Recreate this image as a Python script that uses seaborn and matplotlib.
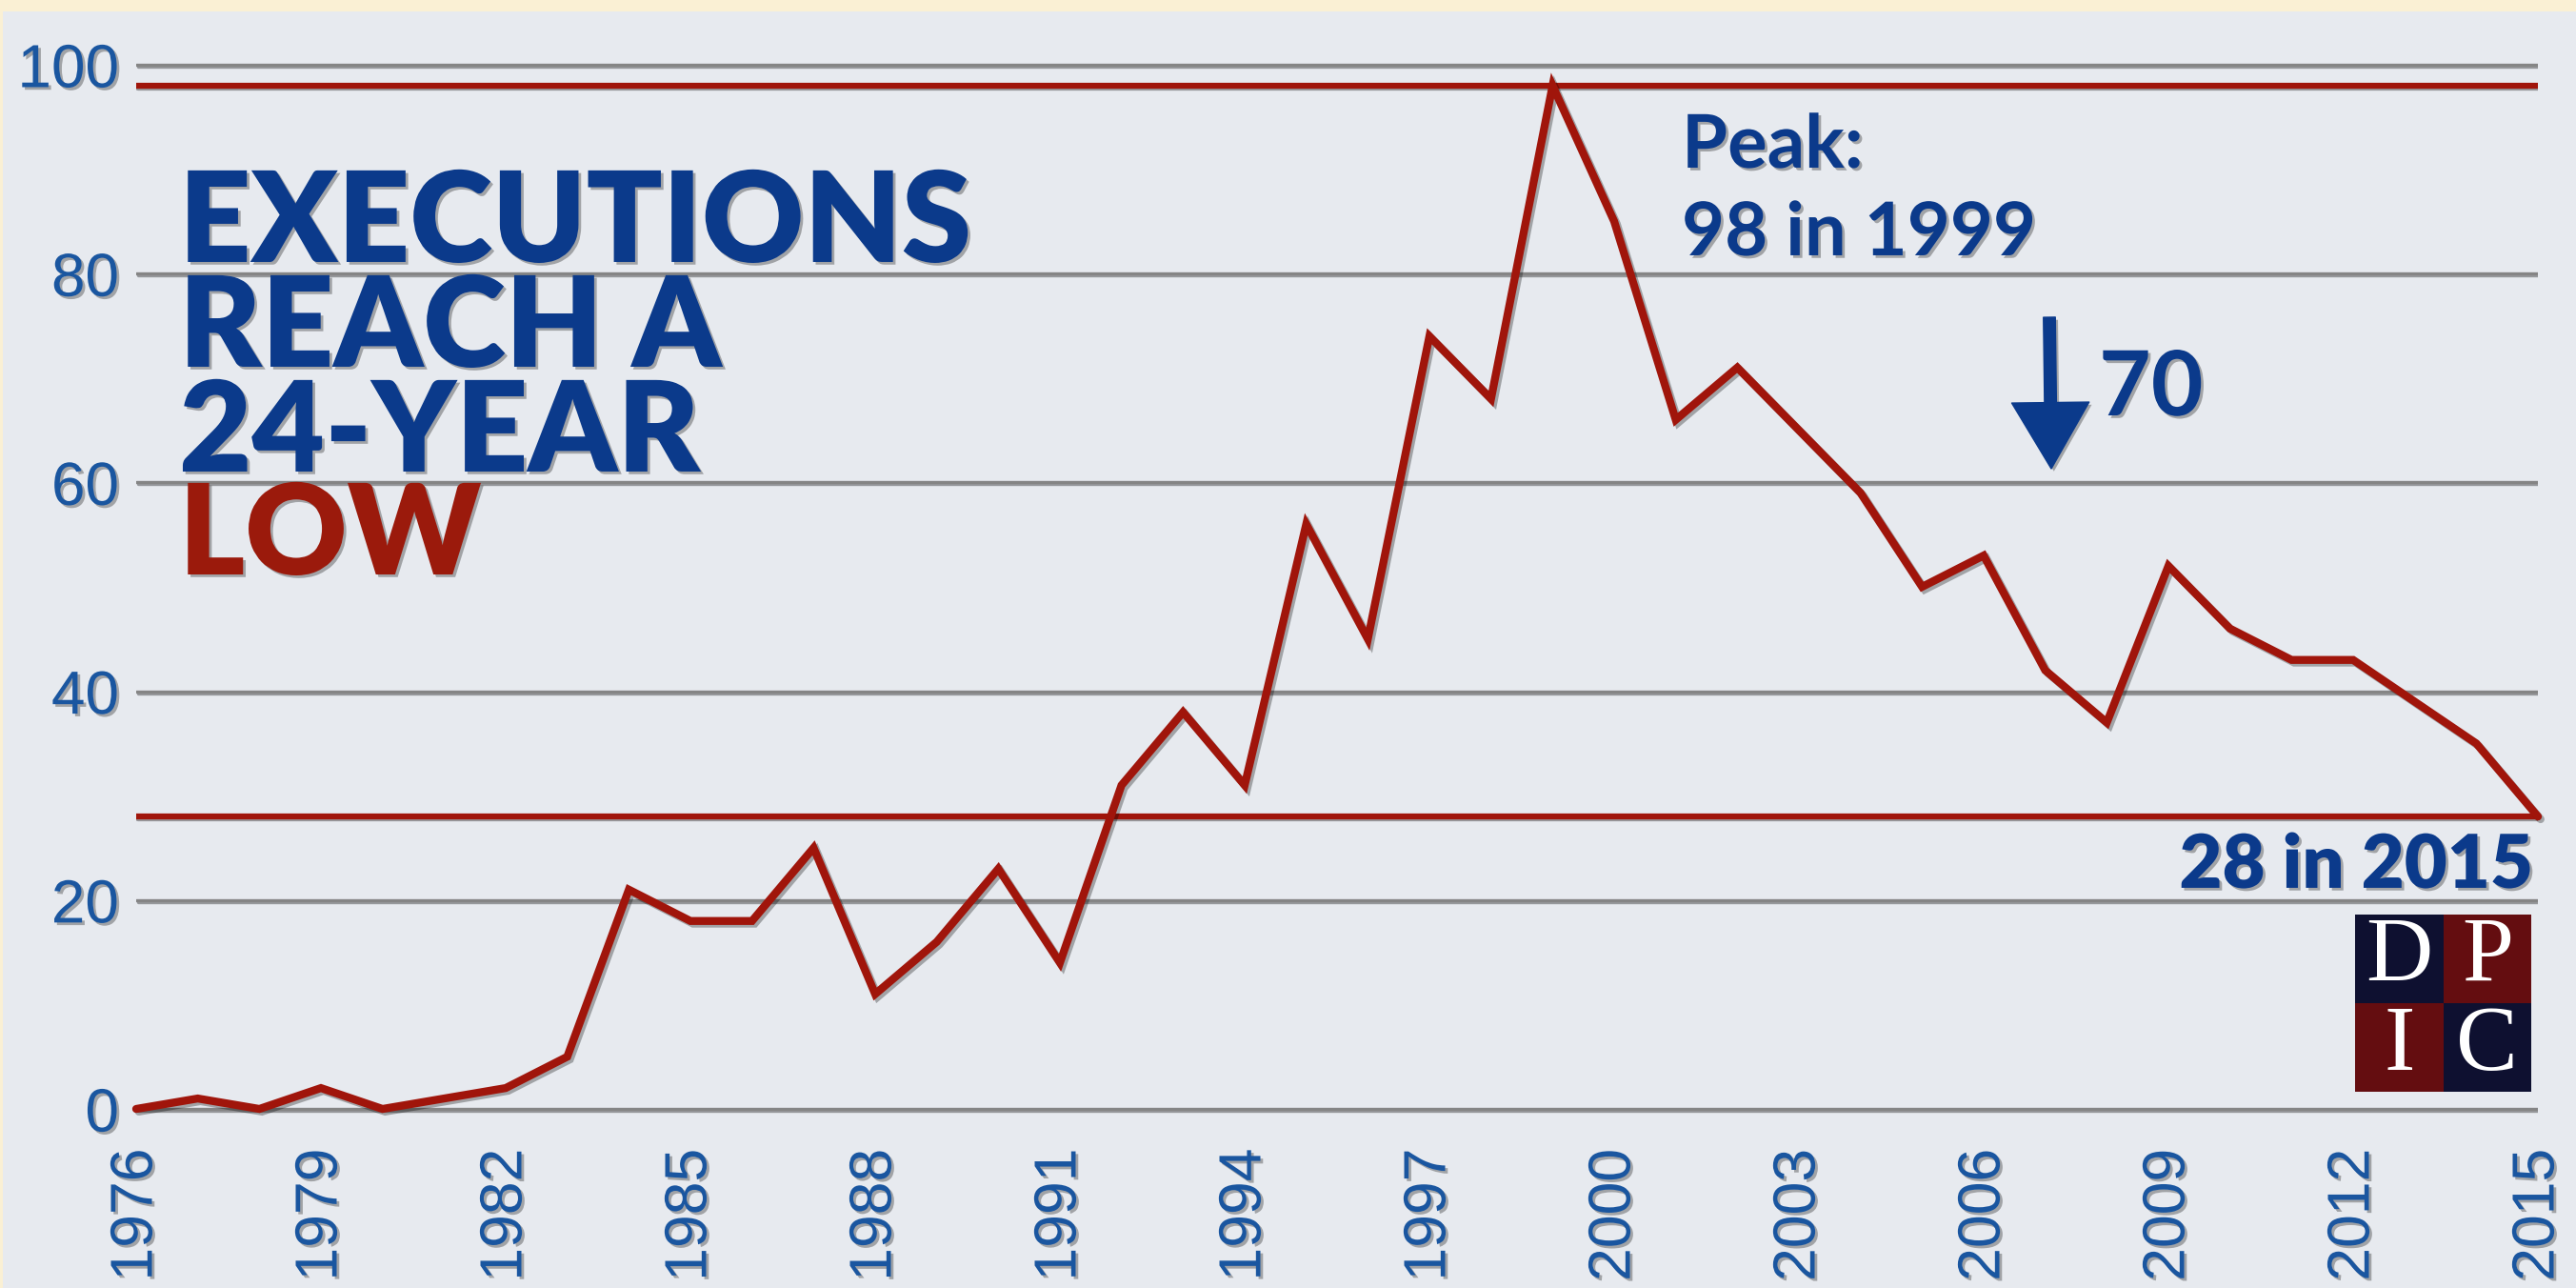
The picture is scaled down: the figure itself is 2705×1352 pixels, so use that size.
import numpy as np
import pandas as pd
import matplotlib
matplotlib.use("Agg")
import matplotlib.pyplot as plt
import matplotlib.patheffects as pe
from matplotlib.colors import ListedColormap
from matplotlib.patches import Rectangle, ArrowStyle, FancyArrowPatch
import seaborn as sns

# Data
years = list(range(1976, 2016))
executions = [0, 1, 0, 2, 0, 1, 2, 5, 21, 18,
              18, 25, 11, 16, 23, 14, 31, 38, 31, 56,
              45, 74, 68, 98, 85, 66, 71, 65, 59, 50,
              53, 42, 37, 52, 46, 43, 43, 39, 35, 28]
y_ticks = [0, 20, 40, 60, 80, 100]
x_ticks = years[::3]
title_lines = ["EXECUTIONS", "REACH A", "24-YEAR"]
title_last = "LOW"
drop_label = "70"
logo_letters = [["D", "P"], ["I", "C"]]

# Colours
CREAM = "#faf0d4"
PANEL = "#e7eaef"
BLUE = "#0b3a8b"
TICK_BLUE = "#1a56a0"
RED = "#a0150b"
GRID = "#858585"
NAVY = "#0e1030"
MAROON = "#640d10"

W, H = 2705, 1352

sns.set_style("white")
plt.rcParams["font.family"] = ["Liberation Sans", "DejaVu Sans"]

shadow = [pe.SimpleLineShadow(offset=(1.5, -1.5), alpha=0.35), pe.Normal()]
text_shadow = [pe.withSimplePatchShadow(offset=(2, -2), shadow_rgbFace="k", alpha=0.3)]

fig = plt.figure(figsize=(W / 100, H / 100), dpi=100, facecolor=CREAM)
fig.add_artist(Rectangle((3 / W, 0), 1, 1 - 12 / H, transform=fig.transFigure,
                         facecolor=PANEL, edgecolor="none", zorder=-10))

ax = fig.add_axes([143 / W, 1 - 1175 / H, (2665 - 143) / W, (1175 - 57) / H])
ax.set_facecolor("none")

df = pd.DataFrame({"year": years, "executions": executions})
sns.lineplot(data=df, x="year", y="executions", ax=ax, color=RED, linewidth=6,
             clip_on=False, zorder=5, solid_joinstyle="miter",
             path_effects=[pe.SimpleLineShadow(offset=(2, -2), alpha=0.3), pe.Normal()])

# peak and latest reference lines
ax.axhline(max(executions), color=RED, linewidth=4.5, zorder=4, path_effects=shadow)
ax.axhline(executions[-1], color=RED, linewidth=4.5, zorder=4, path_effects=shadow)

ax.set_xlim(years[0], years[-1])
ax.set_ylim(-1, 101)
ax.set_yticks(y_ticks)
ax.set_xticks(x_ticks)
ax.set_xticklabels([str(y) for y in x_ticks], rotation=90)
ax.set_xlabel("")
ax.set_ylabel("")
ax.yaxis.grid(True, color=GRID, linewidth=2.4)
ax.xaxis.grid(False)
for t in ax.yaxis.get_major_ticks():
    t.gridline.set_path_effects(shadow)
sns.despine(ax=ax, left=True, bottom=True)
ax.tick_params(axis="y", length=0, pad=13, labelsize=46, labelcolor=TICK_BLUE)
ax.tick_params(axis="x", length=0, pad=22, labelsize=45, labelcolor=TICK_BLUE)
for lab in ax.get_xticklabels() + ax.get_yticklabels():
    lab.set_path_effects(text_shadow)

# Title block (baseline given for the last line)
fig.text(188 / W, 0.6339, "\n".join(title_lines), fontsize=95, fontweight="heavy",
         family=["Lato", "DejaVu Sans"], color=BLUE, va="baseline", linespacing=0.88,
         path_effects=text_shadow)
fig.text(188 / W, 0.5540, title_last, fontsize=95, fontweight="heavy", family=["Lato", "DejaVu Sans"],
         color="#9b1a0c", va="baseline", path_effects=text_shadow)

# Peak annotation
peak = max(executions)
peak_year = years[executions.index(peak)]
fig.text(1766 / W, 0.8698, "Peak:", fontsize=56, fontweight="bold", family=["Lato", "DejaVu Sans"],
         color=BLUE, va="baseline", path_effects=text_shadow)
fig.text(1766 / W, 0.8018, f"{peak} in {peak_year}", fontsize=56, fontweight="bold",
         family=["Lato", "DejaVu Sans"], color=BLUE, va="baseline", path_effects=text_shadow)

# Down arrow with "70"
fig.add_artist(FancyArrowPatch(
    (2152 / W, 1 - 333 / H), (2154 / W, 1 - 492 / H), transform=fig.transFigure,
    arrowstyle=ArrowStyle.Simple(head_length=1.0, head_width=1.17, tail_width=0.18),
    mutation_scale=50, color=BLUE, shrinkA=0, shrinkB=0, path_effects=text_shadow))
fig.text(2204 / W, 0.6775, drop_label, fontsize=68, fontweight="bold", family=["Lato", "DejaVu Sans"],
         color=BLUE, va="baseline", path_effects=text_shadow)

# Latest value
fig.text(2660 / W, 0.3107, f"{executions[-1]} in {years[-1]}", fontsize=56, fontweight="heavy",
         family=["Lato", "DejaVu Sans"], color=BLUE, ha="right", va="baseline",
         path_effects=text_shadow)

# DPIC logo
lax = fig.add_axes([2473 / W, 1 - 1146 / H, 185 / W, 186 / H])
sns.heatmap(np.array([[0, 1], [1, 0]]), ax=lax, cmap=ListedColormap([NAVY, MAROON]), cbar=False,
            annot=np.array(logo_letters), fmt="", xticklabels=False, yticklabels=False,
            annot_kws=dict(color="white", fontsize=70, family=["Liberation Serif", "DejaVu Serif"]))

fig.savefig("out.png", dpi=100, facecolor=CREAM)
